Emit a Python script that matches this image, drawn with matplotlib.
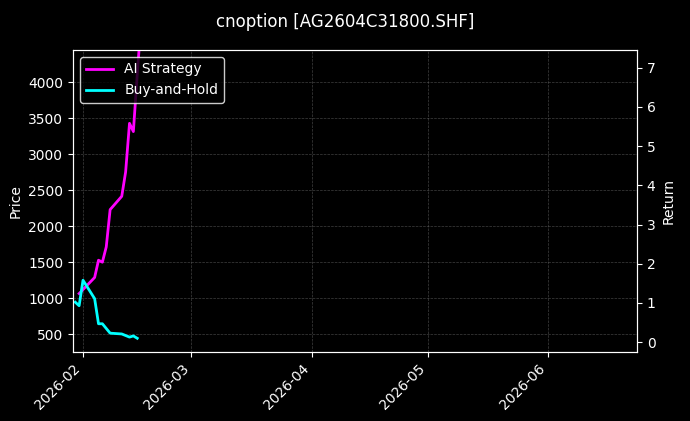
import numpy as np
import pandas as pd
import matplotlib.pyplot as plt

plt.style.use("dark_background")

# Data
ai_dates = pd.to_datetime(["2026-01-31", "2026-02-04", "2026-02-05", "2026-02-06", "2026-02-07",
                           "2026-02-08", "2026-02-11", "2026-02-12", "2026-02-13", "2026-02-14",
                           "2026-02-15", "2026-02-16"])
ai_ret = [1.24, 1.65, 2.09, 2.04, 2.43, 3.38, 3.72, 4.34, 5.58, 5.37, 6.82, 8.2]

bh_dates = pd.to_datetime(["2026-01-30", "2026-01-31", "2026-02-01", "2026-02-04", "2026-02-05",
                           "2026-02-06", "2026-02-08", "2026-02-11", "2026-02-13", "2026-02-14",
                           "2026-02-15"])
bh_ret = [1.02, 0.93, 1.58, 1.11, 0.47, 0.47, 0.23, 0.21, 0.13, 0.16, 0.10]

fig = plt.figure(figsize=(6.9, 4.21), dpi=100)
fig.patch.set_facecolor("black")
ax = fig.add_axes([73 / 690, 1 - 352 / 421, 564 / 690, 302 / 421])
ax.set_facecolor("black")
ax.set_ylim(250, 4450)
ax.set_ylabel("Price")
ax.grid(True, linestyle="--", linewidth=0.5, color="gray", alpha=0.5)

ax2 = ax.twinx()
ax2.plot(ai_dates, ai_ret, color="magenta", linewidth=2, label="AI Strategy")
ax2.plot(bh_dates, bh_ret, color="cyan", linewidth=2, label="Buy-and-Hold")
ax2.set_ylim(-0.25, 7.45)
ax2.set_ylabel("Return")
ax2.legend(loc="upper left", facecolor="black", edgecolor="white")

ax.set_xlim(pd.Timestamp("2026-01-29 10:00"), pd.Timestamp("2026-06-24"))
ticks = pd.to_datetime(["2026-02-01", "2026-03-01", "2026-04-01", "2026-05-01", "2026-06-01"])
ax.set_xticks(ticks)
ax.set_xticklabels([t.strftime("%Y-%m") for t in ticks], rotation=45, ha="right")

fig.suptitle("cnoption [AG2604C31800.SHF]", y=0.97, fontsize=12)
fig.savefig("out.png", dpi=100, facecolor="black")
